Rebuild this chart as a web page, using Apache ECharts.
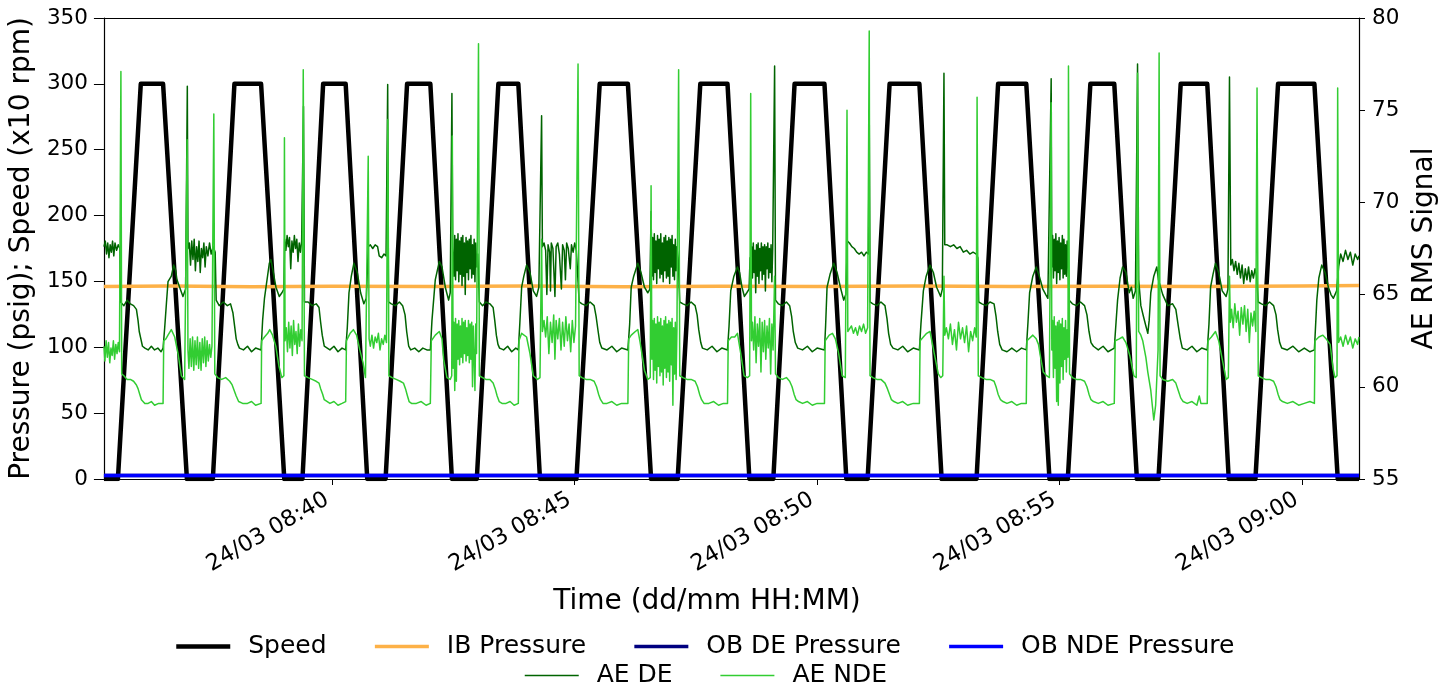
<!DOCTYPE html>
<html>
<head>
<meta charset="utf-8">
<script src="https://cdn.jsdelivr.net/npm/echarts@6/dist/echarts.min.js"></script>
<style>
	html, body { margin: 0; padding: 0; background: #fff; }
	#chart { width: 1448px; height: 688px; }
</style>
</head>
<body>
<div id="chart"></div>
<script>
// x values are seconds after 24/03 08:35:00
const xMin = 17.3
const xMax = 1570.7
const tickSeconds = [300, 600, 900, 1200, 1500]
const tickLabels = ['24/03 08:40', '24/03 08:45', '24/03 08:50', '24/03 08:55', '24/03 09:00']

// speed (x10 rpm), corners of each run-up / hold / run-down
const speed = [
	[17.3, 0], [34.6, 0], [62.9, 300], [90.5, 300], [120.0, 0],
	[152.1, 0], [178.8, 300], [211.8, 300], [240.5, 0],
	[263.0, 0], [288.6, 300], [316.5, 300], [343.2, 0],
	[365.9, 0], [392.5, 300], [421.3, 300], [448.0, 0],
	[478.8, 0], [505.5, 300], [530.2, 300], [557.0, 0],
	[602.1, 0], [630.9, 300], [665.8, 300], [694.5, 0],
	[727.4, 0], [755.4, 300], [789.1, 300], [816.2, 0],
	[845.8, 0], [872.1, 300], [909.1, 300], [936.2, 0],
	[962.5, 0], [989.7, 300], [1026.6, 300], [1054.1, 0],
	[1097.3, 0], [1124.0, 300], [1158.9, 300], [1187.6, 0],
	[1210.3, 0], [1238.2, 300], [1267.8, 300], [1295.8, 0],
	[1322.5, 0], [1350.0, 300], [1382.9, 300], [1409.5, 0],
	[1442.5, 0], [1470.5, 300], [1515.5, 300], [1544.4, 0], [1570.7, 0]
]

const ibPressure = [
	[17.3, 146.2], [100, 146.6], [200, 146.0], [300, 146.4], [420, 146.1], [540, 146.5],
	[660, 146.0], [780, 146.4], [900, 146.2], [1020, 146.6], [1140, 146.1], [1260, 146.4],
	[1380, 146.2], [1500, 146.6], [1570.7, 147.0]
]
const obDePressure = [[17.3, 2.7], [1570.7, 2.7]]
const obNdePressure = [[17.3, 2.7], [1570.7, 2.7]]

const aeDe = [
	[17.3, 67.6], [19, 67.9], [20.5, 67.2], [22, 67.8], [23.5, 67.0], [25, 67.7], [26.5, 67.3], [28, 67.9], [29.5, 67.1], [31, 67.8], [33, 67.4], [35, 67.7],
	[37, 67.5], [37.8, 64.6], [42, 64.4], [46, 64.7], [50, 64.5], [54, 64.4], [57.5, 64.2], [59.5, 63.6], [61, 63.0], [63, 62.6], [65, 62.2], [68, 62.1], [72, 62.0], [76, 62.2], [80, 62.0], [84, 62.1], [88, 61.9], [90.5, 62.1], [92.5, 63.2], [94.6, 64.5], [96.6, 65.7], [100.7, 66.0], [103.6, 66.6], [106.1, 66.3], [107.7, 65.8], [111, 65.4], [115.1, 64.9], [118.4, 65.3], [120.5, 76.3], [121.3, 67.5],
	[123, 67.8], [124.5, 66.6], [126, 67.9], [127.5, 66.9], [129, 68.0], [130.5, 66.3], [132, 67.6], [133.5, 66.8], [135, 67.9], [136.5, 66.2], [138, 67.5], [139.5, 67.0], [141, 67.8], [142.5, 66.5], [144, 67.6], [146, 67.1], [148, 67.8], [150, 67.2], [152.5, 67.6],
	[155, 67.3], [156.2, 64.7], [160, 64.4], [165, 64.6], [170, 64.4], [174, 64.5], [177, 64.0], [179, 63.3], [181, 62.6], [183, 62.3], [185, 62.1], [190, 62.0], [195, 62.2], [200, 61.9], [205, 62.1], [211.8, 62.0], [213.7, 63.6], [216, 64.8], [217.9, 65.4], [222, 66.7], [224, 66.9], [226.9, 66.2], [230.2, 65.4], [234.3, 64.9], [237.6, 65.1], [240, 65.3],
	[241, 68.0], [242.5, 67.4], [244, 68.2], [245.5, 67.6], [247, 68.1], [248.5, 66.4], [250, 67.9], [251.5, 67.3], [253, 68.2], [254.5, 67.5], [256, 68.0], [257.5, 66.8], [259, 67.8], [260.5, 67.3], [262, 67.9],
	[264.3, 75.2], [265.5, 64.6], [270, 64.6], [275, 64.4], [280, 64.5], [283.5, 64.3], [285.5, 63.5], [287.5, 62.8], [290, 62.2], [292, 62.1], [297, 62.0], [302, 62.2], [307, 61.9], [312, 62.1], [316.5, 62.0], [318.5, 63.2], [320.6, 65.1], [323.5, 66.0], [326.7, 66.7], [330.8, 66.2], [335, 65.1], [339, 64.5], [342, 64.8],
	[344.5, 67.6], [347, 67.7], [350, 67.5], [353, 67.7], [356, 67.6], [358, 67.1], [361, 67.0], [364, 67.2], [366.5, 67.1],
	[368.5, 76.4], [369.5, 64.6], [373, 64.5], [378, 64.4], [383, 64.6], [387, 64.4], [390, 63.9], [392, 63.0], [394.5, 62.2], [397, 62.0], [402, 62.1], [407, 61.9], [412, 62.1], [417, 62.0], [421.3, 62.0], [423.3, 63.6], [427.4, 65.8], [432.4, 66.8], [435.7, 66.5], [439.8, 65.4], [443.9, 64.7], [445.9, 65.1], [448, 75.9], [449, 67.5],
	[450.5, 66.0], [451.5, 68.2], [452.5, 65.8], [453.5, 68.0], [454.5, 66.3], [455.5, 68.3], [456.5, 65.7], [457.5, 67.9], [458.5, 66.1], [459.5, 68.1], [460.5, 65.5], [461.5, 68.2], [462.5, 66.0], [463.5, 67.8], [464.5, 65.0], [465.5, 68.1], [466.5, 66.2], [467.5, 67.9], [468.5, 65.8], [469.5, 68.0], [470.5, 66.4], [471.5, 68.2], [472.5, 65.9], [473.5, 67.7], [474.5, 66.1], [475.5, 68.0], [476.5, 65.7], [477.5, 67.8], [478.8, 66.5],
	[480, 67.2], [482, 64.6], [486, 64.4], [490, 64.6], [495, 64.5], [499, 64.3], [501, 63.6], [503, 62.8], [505, 62.3], [507, 62.1], [512, 62.0], [517, 62.2], [522, 61.9], [527, 62.1], [530.2, 62.0], [532, 63.4], [534.3, 65.4], [537, 66.0], [540.4, 66.6], [544.6, 66.2], [548.7, 65.2], [552.8, 64.9], [555.6, 65.4], [559, 74.7], [560, 67.6],
	[562, 67.8], [564, 67.4], [565.5, 65.0], [567, 67.7], [569, 67.3], [570, 65.2], [571, 67.8], [573, 67.5], [575.5, 64.9], [577, 67.6], [579, 67.8], [581, 67.2], [583.5, 65.3], [585, 67.7], [587, 67.4], [588.5, 65.8], [590, 67.8], [592, 67.5], [594.5, 66.4], [596, 67.7], [598, 67.3], [600, 67.8], [602, 67.4],
	[604, 67.3], [605.5, 64.6], [609, 64.5], [614, 64.4], [619, 64.6], [624, 64.4], [626.5, 63.8], [629, 63.0], [631, 62.4], [633.5, 62.1], [640, 62.0], [646, 62.2], [652, 61.9], [658, 62.1], [665.8, 62.0], [668, 63.4], [669.9, 65.4], [673, 66.0], [678.1, 66.7], [682, 66.2], [686.3, 65.4], [690.4, 65.1], [693, 65.3], [694.5, 69.5],
	[695.5, 66.0], [696.5, 68.1], [697.5, 65.8], [698.5, 68.3], [699.5, 66.2], [700.5, 67.9], [701.5, 65.6], [702.5, 68.2], [703.5, 66.4], [704.5, 68.0], [705.5, 65.9], [706.5, 68.3], [707.5, 66.1], [708.5, 67.8], [709.5, 65.7], [710.5, 68.1], [711.5, 66.3], [712.5, 68.2], [713.5, 65.9], [714.5, 67.9], [715.5, 66.0], [716.5, 68.1], [717.5, 65.6], [718.5, 68.0], [719.5, 66.5], [720.5, 68.2], [721.5, 66.0], [722.5, 67.7], [723.5, 65.8], [724.5, 68.0], [725.5, 66.3], [726.5, 67.6],
	[728, 67.0], [730, 64.6], [734, 64.5], [739, 64.4], [744, 64.6], [749, 64.4], [751.5, 63.9], [753.5, 63.1], [756, 62.4], [758, 62.1], [764, 62.0], [770, 62.2], [776, 61.9], [782, 62.1], [789.1, 62.0], [791, 63.3], [793.1, 65.2], [797, 66.0], [801.4, 66.5], [804, 66.2], [807, 65.4], [810, 64.9], [813, 65.1], [815.8, 65.3],
	[817, 67.0], [818, 65.4], [819, 67.6], [820, 65.9], [821, 67.8], [822, 66.2], [823, 67.4], [824, 65.1], [825, 67.7], [826, 66.0], [827, 67.8], [828, 65.6], [829, 67.5], [830, 66.3], [831, 67.8], [832, 65.8], [833, 67.6], [834, 66.1], [835, 67.7], [836, 65.2], [837, 67.6], [838, 66.4], [839, 67.8], [840, 65.9], [841, 67.5], [842, 66.2], [843, 67.7], [844, 65.7], [845, 67.4],
	[847.4, 77.4], [848.5, 64.7], [852, 64.5], [857, 64.4], [862, 64.6], [866, 64.4], [868.5, 63.8], [870.5, 63.0], [873, 62.4], [876, 62.1], [882, 62.0], [888, 62.2], [894, 61.9], [900, 62.1], [909.1, 62.0], [910.5, 63.3], [912.3, 65.4], [916, 66.1], [920.6, 66.7], [924.7, 66.2], [928.8, 65.4], [932.9, 64.7], [935.5, 65.0],
	[937.5, 67.9], [940, 67.8], [943, 67.6], [946, 67.5], [949, 67.3], [952, 67.2], [955, 67.3], [958, 67.1], [961, 67.3], [963.5, 67.2],
	[964.5, 75.0], [965.5, 64.6], [969, 64.5], [974, 64.4], [979, 64.6], [984, 64.4], [986.5, 63.7], [988.5, 62.9], [991, 62.3], [994, 62.1], [1000, 62.0], [1006, 62.2], [1012, 61.9], [1019, 62.1], [1026.6, 62.0], [1028.5, 63.4], [1031.5, 65.2], [1035, 66.0], [1039.7, 66.6], [1043.9, 66.2], [1047.9, 65.4], [1052.9, 64.9], [1055, 65.3], [1057, 77.0], [1058, 67.7],
	[1061, 67.7], [1065, 67.6], [1069, 67.7], [1073, 67.5], [1077, 67.6], [1081, 67.3], [1085, 67.4], [1089, 67.2], [1093, 67.3], [1097, 67.2],
	[1099, 67.0], [1100, 64.6], [1104, 64.5], [1109, 64.4], [1114, 64.6], [1119, 64.5], [1121.5, 63.8], [1123.5, 63.0], [1126, 62.3], [1129, 62.0], [1135, 61.9], [1141, 62.1], [1147, 61.9], [1153, 62.1], [1158.9, 62.0], [1161, 63.5], [1163, 65.1], [1167, 66.0], [1171.2, 66.5], [1175, 66.0], [1179.4, 65.3], [1183, 65.0], [1185.6, 64.8], [1189.7, 76.7],
	[1190.5, 66.5], [1191.5, 68.2], [1192.5, 65.9], [1193.5, 68.0], [1194.5, 66.3], [1195.5, 68.3], [1196.5, 65.6], [1197.5, 67.9], [1198.5, 66.2], [1199.5, 68.1], [1200.5, 65.8], [1201.5, 67.8], [1202.5, 66.4], [1203.5, 68.2], [1204.5, 65.9], [1205.5, 68.0], [1206.5, 66.1], [1207.5, 67.7], [1208.5, 66.0], [1209.5, 67.9], [1210.5, 66.6],
	[1212, 64.7], [1216, 64.5], [1221, 64.4], [1226, 64.6], [1231, 64.4], [1234, 63.9], [1236.5, 63.0], [1239, 62.4], [1242, 62.2], [1248, 62.0], [1254, 62.2], [1260, 61.9], [1267.8, 62.1], [1270, 63.5], [1271.9, 64.7], [1275, 65.9], [1278.1, 66.5], [1282.2, 66.2], [1286.3, 65.1], [1289, 65.4], [1291.2, 64.8], [1294, 65.2],
	[1296.6, 77.5], [1298, 65.8], [1300.7, 64.4], [1304, 63.8], [1306.9, 63.3], [1309.3, 62.9], [1311, 63.6], [1313, 65.1], [1316.7, 66.0], [1320.4, 66.5], [1322.5, 65.8],
	[1327.8, 65.0], [1334, 64.4], [1340, 64.5], [1344, 64.2], [1347, 63.3], [1349.5, 62.6], [1352, 62.1], [1358, 62.0], [1364, 62.2], [1370, 61.9], [1376, 62.1], [1382.9, 62.0], [1385, 63.4], [1387, 65.4], [1390, 66.1], [1393.1, 66.7], [1397, 66.2], [1401.4, 65.2], [1406.3, 64.9], [1408.5, 65.3], [1410.4, 76.8],
	[1412, 66.6], [1414, 66.9], [1416, 66.3], [1418, 66.8], [1420, 66.1], [1422, 66.7], [1424, 65.9], [1426, 66.6], [1428, 65.6], [1430, 66.4], [1432, 65.8], [1434, 66.5], [1436, 65.7], [1438, 66.3], [1440, 65.9], [1442, 66.4], [1444, 66.0],
	[1446, 64.6], [1450, 64.5], [1455, 64.4], [1460, 64.6], [1465, 64.4], [1468, 63.9], [1470, 63.1], [1472.5, 62.4], [1475, 62.1], [1482, 62.0], [1489, 62.2], [1496, 61.9], [1503, 62.1], [1510, 61.9], [1515.5, 62.0], [1518.5, 64.7], [1521, 65.9], [1524.6, 66.6], [1528.7, 66.2], [1532.8, 65.4], [1536, 65.0], [1539, 64.8], [1543, 65.2],
	[1545.5, 66.5], [1548, 67.2], [1551, 66.8], [1554, 67.4], [1557, 66.9], [1560, 67.3], [1563, 66.6], [1566, 67.2], [1569, 66.9], [1570.7, 67.1]
]

const aeNde = [
	[17.3, 62.2], [18.5, 61.4], [20, 62.5], [21.5, 61.6], [23, 62.4], [24.5, 61.3], [26, 62.1], [27.5, 61.7], [29, 62.5], [30.5, 61.5], [32, 62.3], [33.5, 61.8], [35, 62.4], [36.5, 61.9],
	[38.3, 77.1], [39.3, 60.7], [42, 60.6], [46, 60.4], [50, 60.4], [54, 60.3], [57.5, 60.1], [59.5, 59.9], [61.6, 59.6], [63.7, 59.3], [67.9, 59.1], [72, 59.1], [76, 59.2], [80, 59.0], [85, 59.1], [90.5, 59.1], [91.3, 62.5], [94, 62.6], [96.6, 62.8], [100.7, 63.1], [104.9, 62.7], [109, 61.8], [113.1, 60.6], [117.2, 60.4], [119.5, 60.5], [120.3, 73.4], [121.3, 62.0],
	[122.5, 61.0], [124, 62.6], [125.5, 61.1], [127, 62.7], [128.5, 60.9], [130, 62.5], [131.5, 61.2], [133, 62.7], [134.5, 61.0], [136, 62.4], [137.5, 60.9], [139, 62.6], [140.5, 61.3], [142, 62.7], [143.5, 61.1], [145, 62.5], [146.5, 61.4], [148, 62.3], [149.5, 61.6], [151, 62.2],
	[153.3, 74.8], [154.5, 60.7], [158, 60.5], [163, 60.4], [168, 60.5], [173, 60.3], [176, 60.1], [178.5, 59.8], [181, 59.5], [184, 59.2], [189, 59.1], [195, 59.1], [200, 59.2], [205, 59.0], [211.8, 59.1], [212.5, 62.5], [216, 62.7], [220, 62.9], [222.5, 63.1], [226, 62.8], [230, 62.2], [234, 61.1], [237.5, 60.5], [240, 60.6], [240.7, 73.5], [241.5, 62.5],
	[243, 63.2], [244.5, 61.9], [246, 63.5], [247.5, 62.1], [249, 63.3], [250.5, 61.7], [252, 63.6], [253.5, 62.3], [255, 63.0], [256.5, 61.8], [258, 63.4], [259.5, 62.2], [261, 63.1], [262.5, 62.5],
	[264, 77.2], [265.5, 60.6], [270, 60.5], [275, 60.4], [280, 60.3], [283.5, 60.2], [285.5, 59.9], [288, 59.6], [290, 59.3], [292, 59.2], [297, 59.1], [302, 59.2], [307, 59.0], [312, 59.1], [316.5, 59.2], [317.5, 62.5], [322, 62.9], [326, 63.1], [330, 62.8], [334, 62.0], [338, 61.3], [341, 60.5], [343.2, 60.5], [344.4, 72.5], [345.5, 62.6],
	[347, 62.2], [349, 62.8], [351, 62.1], [353, 62.7], [355, 62.4], [357, 62.9], [359, 62.0], [361, 62.6], [363, 62.3], [365, 62.8], [367, 62.4],
	[368.7, 74.5], [370, 60.6], [374, 60.5], [379, 60.4], [384, 60.3], [388, 60.2], [390.5, 59.9], [393, 59.5], [395, 59.2], [398, 59.1], [404, 59.1], [410, 59.2], [416, 59.0], [421.3, 59.1], [422.5, 62.5], [427.4, 62.8], [432.4, 63.0], [435.7, 62.6], [437.7, 61.5], [441.8, 60.5], [445.9, 60.4], [447.8, 60.6], [448.5, 73.6], [449.5, 61.0],
	[450.5, 63.5], [451.5, 59.8], [452.5, 63.7], [453.5, 60.3], [454.5, 63.4], [455.5, 61.5], [456.5, 63.6], [457.5, 61.2], [458.5, 63.3], [459.5, 61.6], [460.5, 63.7], [461.5, 61.3], [462.5, 63.5], [463.5, 61.8], [464.5, 63.6], [465.5, 61.4], [466.5, 63.2], [467.5, 61.7], [468.5, 63.6], [469.5, 61.3], [470.5, 63.4], [471.5, 61.5], [472.5, 63.5], [473.5, 60.0], [474.5, 63.3], [475.5, 61.6], [476.5, 59.8], [477.5, 63.4], [478.5, 61.8],
	[480.9, 78.6], [482, 60.6], [486, 60.5], [490, 60.4], [495, 60.4], [499, 60.2], [501.5, 59.9], [504, 59.5], [506.5, 59.2], [510, 59.1], [515, 59.1], [520, 59.2], [525, 59.0], [530.2, 59.1], [531, 62.5], [534.3, 62.9], [540.4, 62.7], [544.6, 61.8], [548.7, 60.6], [554, 60.4], [557, 60.5], [559, 68.0], [560, 63.0],
	[562, 63.6], [564, 62.7], [566, 63.8], [568, 61.8], [570, 63.5], [572, 62.4], [574, 63.9], [575.5, 61.5], [577, 63.6], [579, 62.6], [581, 63.7], [583, 62.0], [585, 63.5], [587, 62.2], [589, 63.8], [591, 62.5], [593, 63.4], [595, 61.9], [597, 63.6], [599, 62.4], [601, 63.3],
	[604.1, 77.5], [605.5, 60.6], [609, 60.5], [614, 60.4], [619, 60.4], [624, 60.3], [627, 60.0], [629.5, 59.6], [632, 59.3], [635, 59.1], [640, 59.1], [646, 59.2], [652, 59.0], [658, 59.1], [665.8, 59.1], [666.8, 62.6], [670, 62.8], [675, 63.0], [678.1, 63.1], [681, 62.4], [686.3, 60.9], [690.4, 60.4], [693.5, 60.5], [694.5, 70.9], [695.5, 61.5],
	[696.5, 63.6], [697.5, 60.4], [698.5, 63.7], [699.5, 60.9], [700.5, 63.4], [701.5, 60.2], [702.5, 63.8], [703.5, 61.1], [704.5, 63.5], [705.5, 60.6], [706.5, 63.7], [707.5, 60.8], [708.5, 63.3], [709.5, 60.1], [710.5, 63.6], [711.5, 61.0], [712.5, 63.8], [713.5, 60.5], [714.5, 63.4], [715.5, 60.8], [716.5, 63.6], [717.5, 60.3], [718.5, 63.5], [719.5, 61.2], [720.5, 63.7], [721.5, 59.0], [722.5, 63.2], [723.5, 60.7], [724.5, 63.5], [725.5, 60.4], [726.5, 63.1],
	[728.6, 77.2], [730, 60.6], [734, 60.5], [739, 60.4], [744, 60.4], [749, 60.3], [752, 60.0], [754.5, 59.6], [757, 59.3], [760, 59.1], [766, 59.1], [772, 59.2], [778, 59.0], [784, 59.1], [789.1, 59.1], [790, 62.5], [794, 62.7], [798, 62.7], [801.4, 62.9], [805.5, 61.8], [809.6, 60.6], [813.7, 60.5], [816.5, 60.6], [817.8, 75.9], [818.8, 62.5],
	[820, 63.5], [821.5, 62.0], [823, 63.8], [824.5, 61.3], [826, 63.4], [827.5, 62.2], [829, 63.7], [830.5, 60.8], [832, 63.5], [833.5, 61.9], [835, 63.6], [836.5, 61.5], [838, 63.3], [839.5, 62.1], [841, 63.7], [842.5, 60.7], [844, 63.4], [845.5, 62.0],
	[847.4, 66.0], [848.5, 60.7], [852, 60.5], [857, 60.4], [862, 60.5], [866, 60.3], [869, 60.0], [871.5, 59.6], [874, 59.3], [877, 59.2], [882, 59.1], [888, 59.2], [894, 59.0], [900, 59.1], [909.1, 59.1], [910, 62.5], [915, 62.8], [919, 62.9], [922.6, 62.6], [926.7, 61.8], [931, 60.6], [934.9, 60.5], [936.5, 60.6], [937, 75.0], [938, 63.0],
	[940, 63.1], [942.5, 63.3], [945, 62.9], [947.5, 63.2], [950, 62.8], [952.5, 63.3], [955, 63.0], [957.5, 63.4], [960, 62.9], [962.5, 63.2],
	[964.5, 79.3], [965.5, 60.6], [969, 60.5], [974, 60.4], [979, 60.4], [984, 60.2], [987, 59.9], [989.5, 59.6], [992, 59.3], [995, 59.2], [1000, 59.1], [1006, 59.2], [1012, 59.0], [1019, 59.1], [1026.6, 59.1], [1027.5, 62.5], [1031.5, 62.7], [1035.6, 62.9], [1039.7, 63.0], [1045, 61.8], [1050, 60.7], [1053, 60.5], [1055.5, 60.6], [1057, 66.0], [1058, 62.8],
	[1060, 63.2], [1062.5, 62.6], [1065, 63.4], [1067.5, 62.3], [1070, 63.1], [1072.5, 62.0], [1075, 63.5], [1077.5, 62.6], [1080, 63.2], [1082.5, 62.4], [1085, 63.3], [1087.5, 61.9], [1090, 63.0], [1092.5, 62.5], [1095, 63.2], [1097, 62.7],
	[1098, 75.7], [1099.5, 60.6], [1104, 60.5], [1109, 60.4], [1114, 60.4], [1119, 60.3], [1121.5, 60.0], [1124, 59.6], [1127, 59.3], [1130, 59.2], [1135, 59.1], [1141, 59.2], [1147, 59.0], [1153, 59.1], [1158.9, 59.1], [1159.7, 62.5], [1167, 62.8], [1171.2, 62.6], [1174, 62.3], [1177, 61.5], [1180, 60.8], [1184, 60.6], [1187.5, 60.5], [1189.7, 75.4], [1190.5, 62.0],
	[1191.5, 63.6], [1192.5, 60.5], [1193.5, 63.8], [1194.5, 61.0], [1195.5, 63.3], [1196.5, 59.2], [1197.5, 63.5], [1198.5, 59.0], [1199.5, 63.6], [1200.5, 60.2], [1201.5, 63.4], [1202.5, 61.1], [1203.5, 63.7], [1204.5, 60.4], [1205.5, 63.2], [1206.5, 61.5], [1207.5, 63.6], [1208.5, 60.8], [1209.5, 63.1], [1210.5, 61.6],
	[1211.1, 77.4], [1212.5, 60.7], [1216, 60.5], [1221, 60.4], [1226, 60.4], [1231, 60.3], [1234, 60.0], [1236.5, 59.6], [1239, 59.3], [1242, 59.2], [1248, 59.1], [1254, 59.2], [1260, 59.0], [1267.8, 59.1], [1269, 62.5], [1274, 62.6], [1278, 62.7], [1282.2, 62.4], [1287, 61.7], [1292, 60.6], [1295, 60.5],
	[1296.6, 77.0], [1298, 63.0], [1300.7, 62.8], [1303, 62.5], [1306.9, 61.6], [1309.3, 60.8], [1313, 59.8], [1316.7, 58.2], [1319, 59.0], [1322, 62.0], [1323.3, 78.1], [1324.5, 60.6],
	[1327.8, 60.4], [1334, 60.3], [1340, 60.4], [1344, 60.2], [1347, 59.8], [1350, 59.4], [1353, 59.2], [1358, 59.1], [1364, 59.2], [1370, 59.0], [1373, 59.5], [1375, 59.1], [1382.9, 59.1], [1383.7, 62.5], [1388, 62.7], [1393.1, 63.0], [1397, 62.5], [1401.4, 61.5], [1406.3, 60.4], [1409, 60.5], [1410.4, 66.0], [1411.5, 63.5],
	[1413, 64.2], [1415, 63.2], [1417, 64.5], [1419, 63.5], [1421, 64.1], [1423, 62.8], [1425, 64.3], [1427, 63.4], [1429, 64.4], [1431, 63.0], [1433, 64.2], [1435, 62.4], [1437, 64.0], [1439, 63.3], [1441, 64.1], [1443, 63.0],
	[1444.5, 76.2], [1446, 60.6], [1450, 60.5], [1455, 60.4], [1460, 60.4], [1465, 60.3], [1468, 60.0], [1470.5, 59.6], [1473, 59.3], [1476, 59.2], [1482, 59.1], [1489, 59.2], [1496, 59.0], [1503, 59.1], [1510, 59.2], [1515.5, 59.1], [1516.3, 62.5], [1521, 62.7], [1526, 62.8], [1530, 62.6], [1535, 62.3], [1538.5, 61.0], [1541, 60.5], [1543.5, 60.6], [1544.3, 76.2], [1545.5, 62.4],
	[1548, 62.7], [1551, 62.2], [1554, 62.8], [1557, 62.3], [1560, 62.7], [1563, 62.1], [1566, 62.6], [1569, 62.3], [1570.7, 62.7]
]

const FONT = 'DejaVu Sans'
const chart = echarts.init(document.getElementById('chart'))

const line = (name, data, color, width, yAxisIndex) => ({
	name,
	type: 'line',
	data,
	yAxisIndex,
	symbol: 'none',
	lineStyle: { color, width, join: 'round' },
	itemStyle: { color }
})

const legendBase = {
	padding: 0,
	itemWidth: 54,
	itemHeight: 14,
	selectedMode: false,
	itemStyle: { opacity: 0 },
	lineStyle: { width: 'inherit' },
	textStyle: { fontSize: 25, fontFamily: FONT, color: '#000', padding: [0, 0, 0, 13] }
}

const option = {
	animation: false,
	backgroundColor: '#fff',
	grid: { left: 99, right: 89, top: 18, bottom: 209 },
	xAxis: [
		{
			type: 'value',
			min: xMin,
			max: xMax,
			axisLine: { lineStyle: { color: '#000', width: 1.2 } },
			axisTick: { customValues: tickSeconds, length: 6, lineStyle: { color: '#000' } },
			axisLabel: {
				customValues: tickSeconds,
				formatter: (v) => tickLabels[tickSeconds.indexOf(v)],
				rotate: 30,
				margin: 16,
				padding: [0, 6, 0, 0],
				fontSize: 22.5,
				fontFamily: FONT,
				color: '#000'
			},
			splitLine: { show: false }
		},
		{
			type: 'value',
			position: 'top',
			min: xMin,
			max: xMax,
			axisLine: { show: true, lineStyle: { color: '#000', width: 1.2 } },
			axisTick: { show: false },
			axisLabel: { show: false },
			splitLine: { show: false }
		}
	],
	yAxis: [
		{
			type: 'value',
			min: 0,
			max: 350,
			interval: 50,
			position: 'left',
			name: 'Pressure (psig); Speed (x10 rpm)',
			nameLocation: 'middle',
			nameGap: 60,
			nameTextStyle: { fontSize: 28, fontFamily: FONT, color: '#000' },
			axisLine: { show: true, lineStyle: { color: '#000', width: 1.2 } },
			axisTick: { show: true, length: 10, lineStyle: { color: '#000' } },
			axisLabel: { margin: 16, fontSize: 21.5, fontFamily: FONT, color: '#000' },
			splitLine: { show: false }
		},
		{
			type: 'value',
			min: 55,
			max: 80,
			interval: 5,
			position: 'right',
			name: 'AE RMS Signal',
			nameLocation: 'middle',
			nameRotate: 90,
			nameGap: 45,
			nameTextStyle: { fontSize: 28, fontFamily: FONT, color: '#000' },
			axisLine: { show: true, lineStyle: { color: '#000', width: 1.2 } },
			axisTick: { show: true, length: 6, lineStyle: { color: '#000' } },
			axisLabel: { margin: 13, fontSize: 21.5, fontFamily: FONT, color: '#000' },
			splitLine: { show: false }
		}
	],
	legend: [
		Object.assign({}, legendBase, {
			data: ['Speed', 'IB Pressure', 'OB DE Pressure', 'OB NDE Pressure'],
			left: 174,
			top: 634,
			itemGap: 46.5
		}),
		Object.assign({}, legendBase, {
			data: ['AE DE', 'AE NDE'],
			left: 524,
			top: 663,
			itemGap: 47
		})
	],
	graphic: [
		{
			type: 'text',
			x: 707,
			y: 602,
			style: {
				text: 'Time (dd/mm HH:MM)',
				font: '28px "DejaVu Sans"',
				fill: '#000',
				align: 'center',
				verticalAlign: 'middle'
			}
		}
	],
	series: [
		line('Speed', speed, '#000000', 4.5, 0),
		line('IB Pressure', ibPressure, '#fdb147', 3.5, 0),
		line('OB DE Pressure', obDePressure, '#000080', 3.5, 0),
		line('OB NDE Pressure', obNdePressure, '#0000ff', 3.5, 0),
		line('AE DE', aeDe, '#006400', 1.5, 1),
		line('AE NDE', aeNde, '#32cd32', 1.5, 1)
	]
}

chart.setOption(option)
window.addEventListener('resize', () => chart.resize())
</script>
</body>
</html>
